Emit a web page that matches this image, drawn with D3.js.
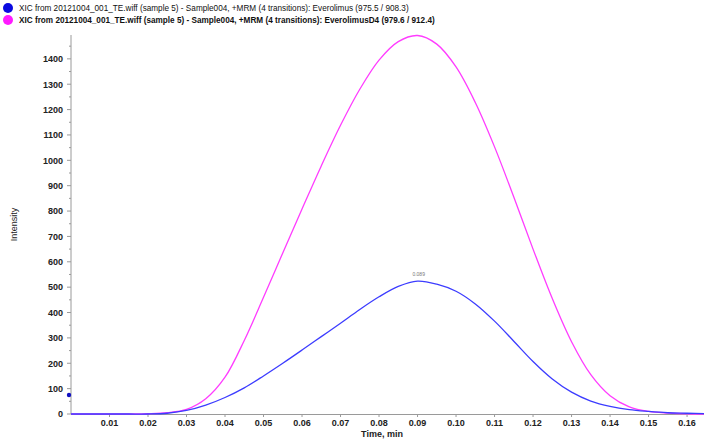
<!DOCTYPE html>
<html>
<head>
<meta charset="utf-8">
<script src="https://cdn.jsdelivr.net/npm/d3@7"></script>
<style>
  body { margin: 0; background: #fff; }
  svg { display: block; font-family: "Liberation Sans", Arial, sans-serif; }
</style>
</head>
<body>
<svg id="chart" width="704" height="440"></svg>
<script>
// retention times (min)
const times = [0, 0.005, 0.01, 0.015, 0.02, 0.025, 0.03, 0.035, 0.04, 0.045, 0.05, 0.055,
  0.06, 0.065, 0.07, 0.075, 0.08, 0.085, 0.09, 0.095, 0.1, 0.105, 0.11, 0.115,
  0.12, 0.125, 0.13, 0.135, 0.14, 0.145, 0.15, 0.155, 0.16, 0.165];
// Everolimus (975.5 / 908.3)
const everolimus = [0, 0, 0, 0, 0, 3, 14, 35, 65, 103, 150, 200,
  252, 305, 358, 412, 462, 503, 524, 512, 484, 434, 366, 287,
  207, 138, 86, 51, 30, 17, 10, 5, 3, 1];
// EverolimusD4 (979.6 / 912.4)
const everolimusD4 = [0, 0, 0, 0, 1, 5, 18, 60, 145, 290, 460, 635,
  808, 978, 1138, 1280, 1395, 1468, 1492, 1458, 1368, 1228, 1053, 855,
  650, 455, 285, 155, 72, 28, 10, 4, 1, 0];
const xTicks = [0.01, 0.02, 0.03, 0.04, 0.05, 0.06, 0.07, 0.08, 0.09, 0.10, 0.11, 0.12, 0.13, 0.14, 0.15, 0.16];
const yTicks = d3.range(0, 1401, 100);
const legend = [
  { text: "XIC from 20121004_001_TE.wiff (sample 5) - Sample004, +MRM (4 transitions): Everolimus (975.5 / 908.3)", color: "#0a0ae0", bold: false },
  { text: "XIC from 20121004_001_TE.wiff (sample 5) - Sample004, +MRM (4 transitions): EverolimusD4 (979.6 / 912.4)", color: "#ff1aff", bold: true }
];
const peakLabel = { time: 0.089, value: 524, text: "0.089" };
const thresholdMark = 75;

const svg = d3.select("#chart");
const m = { left: 71, right: 704, top: 35, bottom: 414 };

const x = d3.scaleLinear().domain([0, 0.1644]).range([m.left, m.right]);
const y = d3.scaleLinear().domain([0, 1494]).range([m.bottom, m.top]);

// legend
const lg = svg.append("g");
legend.forEach((d, i) => {
  const row = lg.append("g").attr("transform", `translate(0, ${8 + i * 12})`);
  row.append("circle").attr("cx", 8).attr("cy", 0).attr("r", 5).attr("fill", d.color);
  row.append("text")
    .attr("x", 19).attr("y", 3)
    .style("font-size", "8.2px")
    .style("font-weight", d.bold ? "bold" : "normal")
    .attr("fill", "#111")
    .text(d.text);
});

// axes
const axisColor = "#9a9a9a";
svg.append("line").attr("x1", m.left).attr("x2", m.left).attr("y1", m.top).attr("y2", m.bottom)
  .attr("stroke", axisColor);
svg.append("line").attr("x1", m.left).attr("x2", m.right).attr("y1", m.bottom + 0.5).attr("y2", m.bottom + 0.5)
  .attr("stroke", axisColor);

// y ticks
d3.range(50, 1451, 100).forEach(v => {
  svg.append("line").attr("x1", m.left - 2).attr("x2", m.left)
    .attr("y1", y(v)).attr("y2", y(v)).attr("stroke", axisColor);
});
yTicks.forEach(v => {
  svg.append("line").attr("x1", m.left - 4).attr("x2", m.left)
    .attr("y1", y(v)).attr("y2", y(v)).attr("stroke", axisColor);
  svg.append("text")
    .attr("x", m.left - 8).attr("y", y(v) + 3.3)
    .attr("text-anchor", "end")
    .style("font-size", "9px").style("font-weight", "bold")
    .attr("fill", "#222")
    .text(v);
});

// x ticks
xTicks.forEach(v => {
  svg.append("line").attr("x1", x(v)).attr("x2", x(v))
    .attr("y1", m.bottom + 1).attr("y2", m.bottom + 3).attr("stroke", axisColor);
  svg.append("text")
    .attr("x", x(v)).attr("y", m.bottom + 12)
    .attr("text-anchor", "middle")
    .style("font-size", "9px").style("font-weight", "bold")
    .attr("fill", "#222")
    .text(v.toFixed(2));
});

svg.append("text")
  .attr("x", 382).attr("y", 437)
  .attr("text-anchor", "middle")
  .style("font-size", "9px").style("font-weight", "bold")
  .attr("fill", "#222")
  .text("Time, min");

svg.append("text")
  .attr("transform", `translate(17, ${(m.top + m.bottom) / 2}) rotate(-90)`)
  .attr("text-anchor", "middle")
  .style("font-size", "9px")
  .attr("fill", "#222")
  .text("Intensity");

// traces
const line = d3.line()
  .x((d, i) => x(times[i]))
  .y(d => y(d))
  .curve(d3.curveCatmullRom.alpha(0.5));

svg.append("path").datum(everolimusD4)
  .attr("d", line).attr("fill", "none")
  .attr("stroke", "#ff3cff").attr("stroke-width", 1.3);
svg.append("path").datum(everolimus)
  .attr("d", line).attr("fill", "none")
  .attr("stroke", "#3c3cff").attr("stroke-width", 1.3);

// threshold marker
svg.append("circle").attr("cx", m.left - 2).attr("cy", y(thresholdMark)).attr("r", 2.2)
  .attr("fill", "#1010c0");

// peak apex label
svg.append("text")
  .attr("x", x(peakLabel.time) + 5).attr("y", y(peakLabel.value) - 5)
  .attr("text-anchor", "middle")
  .style("font-size", "5px")
  .attr("fill", "#777")
  .text(peakLabel.text);
</script>
</body>
</html>
